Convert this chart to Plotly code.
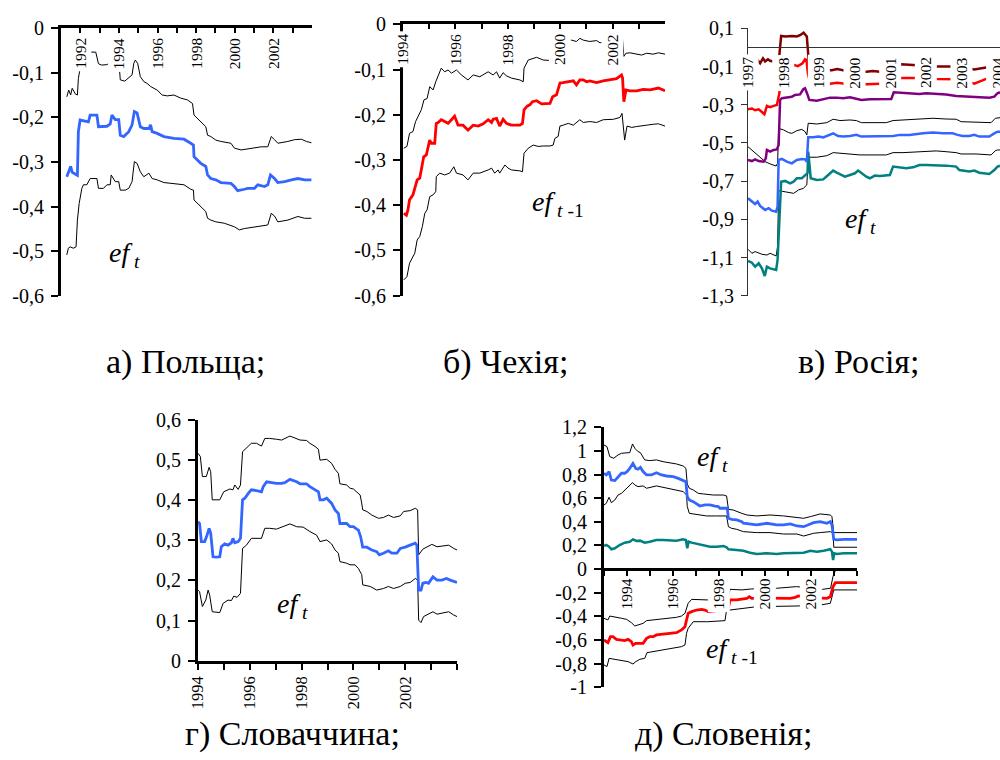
import plotly.graph_objects as go

W, H = 1000, 760
FONT = "Times New Roman"

# ---------------- Panel а) Польща ----------------
PL_LABEL_YEARS = [1992, 1994, 1996, 1998, 2000, 2002]
PL_YTICKS = [0, -0.1, -0.2, -0.3, -0.4, -0.5, -0.6]
PL_YTEXT = ["0", "-0,1", "-0,2", "-0,3", "-0,4", "-0,5", "-0,6"]
PL_EST = [(1991.30,-0.333),(1991.50,-0.31),(1991.58,-0.323),(1991.85,-0.33),(1991.90,-0.232),(1991.99,-0.206),
          (1992.42,-0.21),(1992.51,-0.195),(1992.86,-0.195),(1992.94,-0.221),(1993.38,-0.22),(1993.55,-0.215),
          (1993.64,-0.195),(1993.81,-0.205),(1993.99,-0.205),(1994.07,-0.24),(1994.25,-0.243),(1994.51,-0.232),
          (1994.68,-0.217),(1994.80,-0.187),(1994.94,-0.19),(1995.11,-0.221),(1995.29,-0.225),(1995.55,-0.225),
          (1995.64,-0.217),(1995.72,-0.232),(1995.98,-0.236),(1996.33,-0.243),(1996.85,-0.247),(1997.37,-0.249),
          (1997.72,-0.258),(1997.86,-0.262),(1997.89,-0.288),(1998.24,-0.303),(1998.50,-0.31),(1998.59,-0.329),
          (1998.76,-0.337),(1999.02,-0.34),(1999.28,-0.346),(1999.80,-0.348),(1999.98,-0.355),(2000.15,-0.364),
          (2000.50,-0.361),(2000.67,-0.359),(2001.02,-0.359),(2001.19,-0.351),(2001.54,-0.355),(2001.71,-0.351),
          (2001.85,-0.329),(2002.06,-0.337),(2002.23,-0.346),(2002.58,-0.344),(2002.93,-0.34),(2003.27,-0.337),
          (2003.62,-0.34),(2003.97,-0.34)]
PL_UP = [(1991.30,-0.154),(1991.40,-0.139),(1991.50,-0.15),(1991.58,-0.135),(1991.75,-0.148),(1991.85,-0.15),
         (1991.90,-0.113),(1991.99,-0.09),(1992.42,-0.075),(1992.51,-0.054),(1992.80,-0.054),(1992.85,-0.066),
         (1992.94,-0.08),(1993.10,-0.083),(1993.38,-0.082),(1993.55,-0.077),(1993.64,-0.06),(1993.99,-0.07),
         (1994.07,-0.116),(1994.30,-0.119),(1994.51,-0.112),(1994.68,-0.105),(1994.77,-0.079),(1994.85,-0.072),
         (1994.97,-0.079),(1995.11,-0.109),(1995.29,-0.12),(1995.46,-0.124),(1995.64,-0.131),(1995.81,-0.135),
         (1995.98,-0.139),(1996.24,-0.15),(1996.50,-0.152),(1996.85,-0.15),(1997.20,-0.157),(1997.55,-0.161),
         (1997.81,-0.169),(1997.89,-0.195),(1998.24,-0.21),(1998.50,-0.221),(1998.59,-0.24),(1998.76,-0.243),
         (1999.02,-0.251),(1999.28,-0.254),(1999.80,-0.258),(1999.98,-0.269),(2000.33,-0.273),(2000.67,-0.271),
         (2001.02,-0.269),(2001.37,-0.266),(2001.71,-0.266),(2001.89,-0.243),(2002.06,-0.25),(2002.23,-0.258),
         (2002.75,-0.254),(2003.10,-0.25),(2003.45,-0.249),(2003.71,-0.254),(2003.97,-0.257)]
PL_LO = [(1991.30,-0.508),(1991.38,-0.493),(1991.47,-0.49),(1991.64,-0.493),(1991.78,-0.49),(1991.85,-0.43),
         (1991.94,-0.393),(1992.08,-0.359),(1992.16,-0.351),(1992.34,-0.351),(1992.51,-0.337),(1992.86,-0.337),
         (1992.94,-0.359),(1993.20,-0.359),(1993.38,-0.351),(1993.55,-0.351),(1993.60,-0.329),(1993.81,-0.344),
         (1993.99,-0.344),(1994.07,-0.363),(1994.33,-0.363),(1994.51,-0.359),(1994.68,-0.344),(1994.80,-0.299),
         (1994.94,-0.303),(1995.11,-0.322),(1995.29,-0.333),(1995.55,-0.325),(1995.72,-0.337),(1995.98,-0.34),
         (1996.33,-0.346),(1996.85,-0.348),(1997.37,-0.351),(1997.72,-0.361),(1997.86,-0.363),(1997.89,-0.385),
         (1998.24,-0.4),(1998.50,-0.411),(1998.59,-0.426),(1998.76,-0.43),(1999.02,-0.434),(1999.45,-0.437),
         (1999.98,-0.445),(2000.24,-0.452),(2000.50,-0.449),(2001.02,-0.445),(2001.37,-0.443),(2001.71,-0.441),
         (2001.89,-0.415),(2002.06,-0.421),(2002.23,-0.434),(2002.75,-0.43),(2003.27,-0.422),(2003.62,-0.426),
         (2003.97,-0.426)]

# ---------------- Panel б) Чехія ----------------
CZ_LABEL_YEARS = [1994, 1996, 1998, 2000, 2002]
CZ_YTICKS = PL_YTICKS
CZ_YTEXT = PL_YTEXT
CZ_EST = [(1994.03,-0.418),(1994.13,-0.422),(1994.19,-0.41),(1994.25,-0.388),(1994.38,-0.377),(1994.48,-0.359),
          (1994.54,-0.344),(1994.64,-0.34),(1994.70,-0.322),(1994.79,-0.293),(1994.89,-0.289),(1994.96,-0.27),
          (1995.02,-0.256),(1995.08,-0.263),(1995.21,-0.263),(1995.27,-0.219),(1995.34,-0.217),(1995.46,-0.211),
          (1995.59,-0.215),(1995.72,-0.219),(1995.85,-0.211),(1995.97,-0.203),(1996.10,-0.223),(1996.29,-0.223),
          (1996.48,-0.234),(1996.68,-0.223),(1996.87,-0.225),(1997.06,-0.22),(1997.25,-0.211),(1997.38,-0.217),
          (1997.44,-0.21),(1997.57,-0.208),(1997.69,-0.225),(1997.82,-0.21),(1997.95,-0.219),(1998.14,-0.223),
          (1998.46,-0.223),(1998.56,-0.219),(1998.62,-0.189),(1998.74,-0.181),(1998.84,-0.178),(1998.94,-0.171),
          (1999.10,-0.169),(1999.29,-0.176),(1999.61,-0.175),(1999.71,-0.16),(1999.86,-0.156),(1999.99,-0.13),
          (2000.11,-0.129),(2000.31,-0.127),(2000.50,-0.125),(2000.62,-0.134),(2000.75,-0.123),(2000.88,-0.123),
          (2001.01,-0.127),(2001.13,-0.125),(2001.39,-0.129),(2001.64,-0.125),(2001.90,-0.123),(2002.15,-0.12),
          (2002.34,-0.112),(2002.38,-0.119),(2002.43,-0.171),(2002.51,-0.145),(2002.66,-0.147),(2002.92,-0.147),
          (2003.17,-0.144),(2003.43,-0.145),(2003.75,-0.141),(2004.0,-0.147)]
CZ_UP = [(1994.03,-0.274),(1994.15,-0.27),(1994.25,-0.241),(1994.38,-0.237),(1994.48,-0.215),(1994.57,-0.204),
         (1994.70,-0.189),(1994.80,-0.167),(1994.92,-0.164),(1995.02,-0.138),(1995.15,-0.145),(1995.25,-0.127),
         (1995.34,-0.112),(1995.46,-0.097),(1995.59,-0.105),(1995.72,-0.101),(1995.85,-0.108),(1996.04,-0.101),
         (1996.23,-0.112),(1996.48,-0.123),(1996.68,-0.112),(1996.93,-0.116),(1997.25,-0.105),(1997.44,-0.112),
         (1997.57,-0.105),(1997.69,-0.119),(1997.82,-0.107),(1997.95,-0.114),(1998.14,-0.119),(1998.46,-0.123),
         (1998.59,-0.127),(1998.62,-0.097),(1998.78,-0.079),(1998.97,-0.075),(1999.10,-0.073),(1999.35,-0.079),
         (1999.61,-0.08),(1999.71,-0.068),(1999.92,-0.064),(1999.99,-0.038),(2000.43,-0.035),(2000.62,-0.038),
         (2000.75,-0.031),(2000.88,-0.035),(2001.13,-0.038),(2001.39,-0.036),(2001.52,-0.041),(2001.90,-0.036),
         (2002.15,-0.033),(2002.34,-0.026),(2002.38,-0.033),(2002.43,-0.071),(2002.51,-0.064),(2002.66,-0.063),
         (2002.92,-0.066),(2003.11,-0.068),(2003.30,-0.064),(2003.55,-0.066),(2003.75,-0.063),(2004.0,-0.066)]
CZ_LO = [(1994.03,-0.565),(1994.15,-0.558),(1994.25,-0.528),(1994.45,-0.506),(1994.54,-0.477),(1994.64,-0.469),
         (1994.74,-0.447),(1994.83,-0.418),(1994.92,-0.41),(1995.02,-0.381),(1995.15,-0.377),(1995.25,-0.37),
         (1995.27,-0.337),(1995.40,-0.329),(1995.59,-0.333),(1995.78,-0.329),(1995.94,-0.315),(1996.04,-0.329),
         (1996.29,-0.333),(1996.48,-0.344),(1996.68,-0.329),(1996.93,-0.329),(1997.25,-0.322),(1997.38,-0.318),
         (1997.50,-0.329),(1997.63,-0.322),(1997.69,-0.329),(1997.89,-0.311),(1998.01,-0.318),(1998.14,-0.322),
         (1998.46,-0.324),(1998.56,-0.326),(1998.62,-0.285),(1998.78,-0.274),(1998.97,-0.267),(1999.16,-0.27),
         (1999.35,-0.269),(1999.61,-0.269),(1999.73,-0.267),(1999.80,-0.252),(1999.92,-0.248),(1999.99,-0.225),
         (2000.11,-0.223),(2000.31,-0.219),(2000.50,-0.223),(2000.62,-0.217),(2000.75,-0.211),(2000.88,-0.217),
         (2001.13,-0.215),(2001.39,-0.217),(2001.64,-0.211),(2002.03,-0.21),(2002.28,-0.206),(2002.36,-0.197),
         (2002.42,-0.226),(2002.46,-0.256),(2002.55,-0.225),(2002.73,-0.228),(2002.92,-0.226),(2003.11,-0.225),
         (2003.30,-0.223),(2003.55,-0.221),(2003.75,-0.22),(2004.0,-0.225)]

# ---------------- Panel в) Росія ----------------
RU_LABEL_YEARS = [1997, 1998, 1999, 2000, 2001, 2002, 2003, 2004]
RU_YTICKS = [0.1, -0.1, -0.3, -0.5, -0.7, -0.9, -1.1, -1.3]
RU_YTEXT = ["0,1", "-0,1", "-0,3", "-0,5", "-0,7", "-0,9", "-1,1", "-1,3"]
RU_DARKRED = [(1997.0,-0.07),(1997.15,-0.075),(1997.27,-0.066),(1997.34,-0.083),(1997.42,-0.057),(1997.48,-0.074),
              (1997.56,-0.062),(1997.62,-0.07),(1997.86,-0.08),(1997.93,0.06),(1998.05,0.057),(1998.24,0.06),
              (1998.37,0.057),(1998.46,0.064),(1998.56,0.077),(1998.60,0.07),(1998.65,0.057),(1998.70,-0.06),
              (1998.76,-0.12),(1999.35,-0.12),(1999.50,-0.113),(1999.67,-0.12),(2000.0,-0.125),(2000.32,-0.128),
              (2000.50,-0.124),(2000.70,-0.128),(2001.05,-0.125),(2001.10,-0.09),(2001.30,-0.088),(2001.72,-0.093),
              (2002.0,-0.095),(2002.28,-0.1),(2002.93,-0.1),(2003.20,-0.112),(2003.35,-0.115),(2003.68,-0.105),
              (2004.07,-0.1)]
RU_RED = [(1997.0,-0.324),(1997.11,-0.32),(1997.20,-0.329),(1997.30,-0.324),(1997.39,-0.338),(1997.46,-0.35),
          (1997.53,-0.306),(1997.62,-0.313),(1997.72,-0.306),(1997.81,-0.301),(1997.88,-0.24),(1997.91,-0.15),
          (1997.96,-0.12),(1998.20,-0.1),(1998.30,-0.092),(1998.40,-0.098),(1998.53,-0.083),(1998.60,-0.062),
          (1998.64,-0.065),(1998.68,-0.136),(1998.75,-0.19),(1999.30,-0.19),(1999.50,-0.185),(1999.72,-0.19),
          (2000.32,-0.193),(2000.70,-0.19),(2001.05,-0.19),(2001.10,-0.16),(2001.72,-0.16),(2002.28,-0.165),
          (2002.93,-0.167),(2003.20,-0.18),(2003.35,-0.19),(2003.68,-0.165),(2004.07,-0.16)]
RU_PURPLE = [(1997.0,-0.589),(1997.11,-0.595),(1997.20,-0.586),(1997.30,-0.595),(1997.44,-0.598),(1997.50,-0.581),
             (1997.53,-0.537),(1997.62,-0.546),(1997.72,-0.537),(1997.81,-0.534),(1997.86,-0.511),(1997.90,-0.275),
             (1997.95,-0.266),(1998.09,-0.261),(1998.23,-0.258),(1998.32,-0.249),(1998.46,-0.246),(1998.55,-0.219),
             (1998.60,-0.214),(1998.65,-0.237),(1998.72,-0.275),(1998.93,-0.279),(1999.11,-0.272),(1999.30,-0.263),
             (1999.49,-0.263),(1999.67,-0.266),(1999.86,-0.261),(2000.04,-0.27),(2000.18,-0.275),(2000.42,-0.272),
             (2000.79,-0.272),(2001.02,-0.27),(2001.09,-0.235),(2001.26,-0.237),(2001.53,-0.24),(2001.81,-0.244),
             (2002.0,-0.24),(2002.28,-0.244),(2002.56,-0.246),(2002.84,-0.254),(2003.21,-0.258),(2003.49,-0.261),
             (2003.77,-0.263),(2003.91,-0.258),(2004.0,-0.24),(2004.07,-0.235)]
RU_BLUE = [(1997.0,-0.79),(1997.11,-0.807),(1997.20,-0.82),(1997.27,-0.807),(1997.34,-0.83),(1997.48,-0.851),
           (1997.58,-0.842),(1997.67,-0.855),(1997.79,-0.86),(1997.83,-0.834),(1997.86,-0.589),(1997.95,-0.584),
           (1998.09,-0.598),(1998.23,-0.607),(1998.37,-0.589),(1998.51,-0.584),(1998.60,-0.586),(1998.65,-0.598),
           (1998.69,-0.471),(1998.83,-0.471),(1998.97,-0.467),(1999.11,-0.471),(1999.30,-0.458),(1999.39,-0.45),
           (1999.53,-0.464),(1999.67,-0.467),(1999.86,-0.464),(2000.04,-0.458),(2000.18,-0.467),(2000.42,-0.467),
           (2000.88,-0.467),(2001.07,-0.464),(2001.26,-0.458),(2001.53,-0.458),(2001.91,-0.45),(2002.19,-0.446),
           (2002.47,-0.45),(2002.74,-0.45),(2002.88,-0.458),(2003.02,-0.464),(2003.21,-0.464),(2003.35,-0.458),
           (2003.49,-0.467),(2003.77,-0.467),(2003.91,-0.45),(2004.0,-0.441),(2004.07,-0.441)]
RU_TEAL = [(1997.0,-1.118),(1997.11,-1.127),(1997.20,-1.148),(1997.30,-1.13),(1997.39,-1.157),(1997.47,-1.197),
           (1997.53,-1.148),(1997.62,-1.157),(1997.72,-1.162),(1997.79,-1.165),(1997.83,-1.113),(1997.88,-0.903),
           (1997.93,-0.703),(1998.04,-0.699),(1998.18,-0.712),(1998.28,-0.703),(1998.37,-0.685),(1998.51,-0.685),
           (1998.60,-0.668),(1998.67,-0.659),(1998.69,-0.546),(1998.76,-0.685),(1998.93,-0.694),(1999.11,-0.691),
           (1999.25,-0.668),(1999.39,-0.645),(1999.49,-0.656),(1999.58,-0.663),(1999.72,-0.677),(1999.86,-0.668),
           (2000.0,-0.659),(2000.09,-0.645),(2000.18,-0.659),(2000.32,-0.677),(2000.42,-0.685),(2000.56,-0.671),
           (2000.70,-0.673),(2000.84,-0.671),(2000.98,-0.668),(2001.07,-0.624),(2001.26,-0.628),(2001.44,-0.633),
           (2001.63,-0.628),(2001.81,-0.616),(2002.0,-0.616),(2002.28,-0.617),(2002.56,-0.619),(2002.84,-0.624),
           (2002.93,-0.642),(2003.21,-0.65),(2003.35,-0.645),(2003.49,-0.656),(2003.63,-0.659),(2003.77,-0.663),
           (2003.91,-0.642),(2004.0,-0.624),(2004.07,-0.62)]
RU_UP = [(1997.0,-0.52),(1997.11,-0.537),(1997.25,-0.563),(1997.34,-0.572),(1997.48,-0.598),(1997.62,-0.61),
         (1997.79,-0.621),(1997.83,-0.607),(1997.86,-0.424),(1998.0,-0.432),(1998.14,-0.446),(1998.23,-0.45),
         (1998.37,-0.436),(1998.51,-0.429),(1998.60,-0.441),(1998.65,-0.458),(1998.69,-0.397),(1998.93,-0.401),
         (1999.21,-0.394),(1999.39,-0.376),(1999.58,-0.383),(1999.86,-0.38),(2000.04,-0.383),(2000.18,-0.394),
         (2000.88,-0.394),(2001.07,-0.383),(2001.35,-0.38),(2001.81,-0.375),(2002.19,-0.371),(2002.56,-0.375),
         (2002.84,-0.376),(2002.98,-0.389),(2003.49,-0.392),(2003.82,-0.394),(2003.94,-0.371),(2004.0,-0.368),
         (2004.07,-0.368)]
RU_LO = [(1997.0,-1.057),(1997.11,-1.078),(1997.20,-1.069),(1997.30,-1.075),(1997.39,-1.083),(1997.53,-1.087),
         (1997.62,-1.078),(1997.79,-1.092),(1997.83,-1.043),(1997.86,-0.75),(1998.04,-0.755),(1998.18,-0.759),
         (1998.28,-0.764),(1998.42,-0.746),(1998.55,-0.738),(1998.65,-0.72),(1998.69,-0.575),(1998.93,-0.575),
         (1999.21,-0.567),(1999.39,-0.551),(1999.58,-0.554),(1999.86,-0.558),(2000.14,-0.563),(2000.88,-0.563),
         (2001.07,-0.551),(2001.35,-0.551),(2001.81,-0.546),(2002.28,-0.542),(2002.56,-0.546),(2002.84,-0.551),
         (2002.98,-0.558),(2003.40,-0.558),(2003.82,-0.563),(2003.94,-0.541),(2004.0,-0.537),(2004.07,-0.537)]

# ---------------- Panel г) Словаччина ----------------
SK_ALL_YEARS = list(range(1994, 2005))
SK_LABEL_YEARS = [1994, 1996, 1998, 2000, 2002]
SK_YTICKS = [0, 0.1, 0.2, 0.3, 0.4, 0.5, 0.6]
SK_YTEXT = ["0", "0,1", "0,2", "0,3", "0,4", "0,5", "0,6"]
SK_EST = [(1994.0,0.347),(1994.06,0.342),(1994.13,0.297),(1994.26,0.297),(1994.35,0.313),(1994.43,0.33),
          (1994.49,0.318),(1994.58,0.259),(1994.71,0.258),(1994.84,0.259),(1994.90,0.284),(1995.03,0.291),
          (1995.16,0.288),(1995.29,0.294),(1995.35,0.305),(1995.42,0.294),(1995.55,0.297),(1995.64,0.305),
          (1995.72,0.401),(1995.81,0.405),(1995.94,0.417),(1996.06,0.426),(1996.26,0.424),(1996.45,0.421),
          (1996.52,0.434),(1996.65,0.446),(1996.84,0.444),(1997.03,0.442),(1997.23,0.442),(1997.35,0.444),
          (1997.55,0.452),(1997.81,0.446),(1997.94,0.441),(1998.19,0.441),(1998.32,0.434),(1998.52,0.427),
          (1998.65,0.421),(1998.71,0.401),(1998.84,0.401),(1998.97,0.405),(1999.16,0.392),(1999.29,0.376),
          (1999.42,0.367),(1999.48,0.342),(1999.74,0.342),(1999.87,0.334),(2000.0,0.334),(2000.13,0.328),
          (2000.19,0.326),(2000.28,0.309),(2000.36,0.283),(2000.52,0.283),(2000.71,0.276),(2000.90,0.272),
          (2001.0,0.264),(2001.16,0.268),(2001.35,0.274),(2001.48,0.268),(2001.68,0.268),(2001.81,0.28),
          (2002.0,0.283),(2002.19,0.288),(2002.39,0.293),(2002.45,0.288),(2002.52,0.176),(2002.61,0.176),
          (2002.68,0.193),(2002.81,0.195),(2002.90,0.193),(2003.07,0.209),(2003.23,0.201),(2003.42,0.201),
          (2003.59,0.205),(2003.74,0.201),(2003.87,0.197),(2004.0,0.195)]
SK_UP = [(1994.0,0.517),(1994.09,0.509),(1994.17,0.459),(1994.32,0.459),(1994.43,0.482),(1994.49,0.471),
         (1994.55,0.401),(1994.84,0.401),(1994.99,0.421),(1995.23,0.428),(1995.35,0.426),(1995.42,0.438),
         (1995.55,0.427),(1995.64,0.438),(1995.72,0.521),(1995.87,0.53),(1996.06,0.542),(1996.26,0.542),
         (1996.45,0.535),(1996.58,0.554),(1996.77,0.554),(1997.03,0.552),(1997.23,0.55),(1997.55,0.56),
         (1997.81,0.554),(1997.94,0.55),(1998.19,0.549),(1998.32,0.542),(1998.52,0.534),(1998.65,0.527),
         (1998.71,0.5),(1998.97,0.502),(1999.16,0.492),(1999.29,0.477),(1999.42,0.467),(1999.48,0.441),
         (1999.74,0.438),(1999.87,0.43),(2000.0,0.428),(2000.13,0.421),(2000.26,0.413),(2000.32,0.393),
         (2000.36,0.376),(2000.52,0.372),(2000.71,0.363),(2000.97,0.355),(2001.16,0.357),(2001.35,0.363),
         (2001.55,0.357),(2001.81,0.361),(2001.94,0.372),(2002.19,0.374),(2002.39,0.38),(2002.48,0.376),
         (2002.52,0.264),(2002.68,0.278),(2002.84,0.284),(2003.03,0.29),(2003.23,0.284),(2003.48,0.286),
         (2003.68,0.288),(2003.87,0.28),(2004.0,0.276)]
SK_LO = [(1994.0,0.176),(1994.06,0.172),(1994.17,0.135),(1994.30,0.151),(1994.39,0.176),(1994.45,0.164),
         (1994.55,0.122),(1994.84,0.12),(1994.97,0.143),(1995.16,0.151),(1995.29,0.15),(1995.38,0.161),
         (1995.51,0.158),(1995.64,0.168),(1995.72,0.28),(1995.87,0.288),(1996.06,0.305),(1996.26,0.305),
         (1996.45,0.305),(1996.58,0.33),(1996.77,0.33),(1997.03,0.328),(1997.23,0.333),(1997.55,0.341),
         (1997.81,0.334),(1998.06,0.333),(1998.32,0.322),(1998.58,0.313),(1998.71,0.297),(1998.97,0.301),
         (1999.16,0.291),(1999.29,0.276),(1999.42,0.268),(1999.48,0.247),(1999.74,0.243),(1999.87,0.239),
         (2000.06,0.239),(2000.19,0.23),(2000.32,0.215),(2000.36,0.189),(2000.65,0.185),(2000.90,0.176),
         (2001.16,0.18),(2001.35,0.185),(2001.55,0.18),(2001.81,0.185),(2002.0,0.193),(2002.19,0.195),
         (2002.39,0.205),(2002.48,0.201),(2002.52,0.101),(2002.61,0.095),(2002.71,0.11),(2002.90,0.116),
         (2003.07,0.122),(2003.23,0.116),(2003.48,0.12),(2003.68,0.122),(2003.87,0.114),(2004.0,0.11)]

# ---------------- Panel д) Словенія ----------------
SI_LABEL_YEARS = [1994, 1996, 1998, 2000, 2002]
SI_YTICKS = [1.2, 1.0, 0.8, 0.6, 0.4, 0.2, 0, -0.2, -0.4, -0.6, -0.8, -1.0]
SI_YTEXT = ["1,2", "1", "0,8", "0,6", "0,4", "0,2", "0", "-0,2", "-0,4", "-0,6", "-0,8", "-1"]
SI_BLUE = [(1993.0,0.811),(1993.10,0.797),(1993.22,0.825),(1993.32,0.754),(1993.47,0.749),(1993.61,0.783),
           (1993.76,0.811),(1993.90,0.811),(1994.0,0.825),(1994.12,0.853),(1994.26,0.895),(1994.38,0.853),
           (1994.48,0.845),(1994.58,0.861),(1994.70,0.825),(1994.85,0.797),(1995.06,0.797),(1995.28,0.816),
           (1995.50,0.797),(1995.72,0.788),(1996.01,0.783),(1996.23,0.768),(1996.44,0.749),(1996.56,0.74),
           (1996.62,0.613),(1996.71,0.585),(1996.88,0.571),(1997.03,0.551),(1997.17,0.534),(1997.39,0.543),
           (1997.61,0.543),(1997.83,0.534),(1997.97,0.529),(1998.04,0.515),(1998.36,0.515),(1998.41,0.43),
           (1998.55,0.421),(1998.77,0.416),(1998.99,0.402),(1999.06,0.388),(1999.35,0.382),(1999.64,0.374),
           (2000.08,0.388),(2000.51,0.374),(2000.81,0.374),(2001.10,0.382),(2001.39,0.365),(2001.68,0.359),
           (2001.97,0.382),(2002.11,0.393),(2002.40,0.402),(2002.69,0.388),(2002.84,0.402),(2002.91,0.374),
           (2002.99,0.252),(2003.13,0.247),(2003.42,0.252),(2003.71,0.252),(2004.0,0.252)]
SI_BLUE_UP = [(1993.0,1.05),(1993.13,1.036),(1993.25,0.952),(1993.42,0.938),(1993.61,0.966),(1993.76,0.98),
              (1994.12,0.986),(1994.24,1.059),(1994.34,1.022),(1994.48,0.994),(1994.58,0.986),(1994.77,0.924),
              (1994.99,0.918),(1995.28,0.924),(1995.57,0.909),(1995.86,0.901),(1996.15,0.89),(1996.44,0.873),
              (1996.56,0.853),(1996.62,0.72),(1996.71,0.684),(1996.88,0.67),(1997.10,0.641),(1997.32,0.636),
              (1997.75,0.627),(1998.19,0.627),(1998.33,0.619),(1998.41,0.506),(1998.62,0.5),(1998.99,0.472),
              (1999.21,0.458),(1999.64,0.45),(2000.22,0.458),(2000.81,0.45),(2001.39,0.438),(2001.68,0.43),
              (2001.97,0.444),(2002.19,0.458),(2002.40,0.467),(2002.84,0.458),(2002.91,0.444),(2002.99,0.309),
              (2004.0,0.309)]
SI_BLUE_LO = [(1993.0,0.543),(1993.10,0.557),(1993.22,0.608),(1993.32,0.562),(1993.47,0.585),(1993.61,0.627),
              (1993.76,0.641),(1994.0,0.684),(1994.24,0.732),(1994.34,0.712),(1994.48,0.698),(1994.70,0.704),
              (1994.85,0.684),(1995.28,0.704),(1995.57,0.692),(1996.01,0.675),(1996.44,0.656),(1996.59,0.627),
              (1996.62,0.53),(1996.71,0.472),(1996.88,0.467),(1997.10,0.458),(1997.46,0.45),(1997.90,0.45),
              (1998.33,0.45),(1998.41,0.359),(1998.55,0.345),(1998.77,0.337),(1999.06,0.317),(1999.64,0.309),
              (2000.22,0.309),(2000.81,0.297),(2001.39,0.297),(2001.68,0.28),(2002.11,0.303),(2002.40,0.309),
              (2002.84,0.317),(2002.96,0.303),(2002.99,0.185),(2004.0,0.185)]
SI_TEAL = [(1993.0,0.196),(1993.10,0.204),(1993.22,0.19),(1993.32,0.168),(1993.47,0.176),(1993.68,0.204),
           (1993.90,0.224),(1994.12,0.232),(1994.26,0.252),(1994.41,0.238),(1994.56,0.241),(1994.77,0.224),
           (1994.99,0.232),(1995.28,0.247),(1995.57,0.247),(1995.86,0.247),(1996.15,0.241),(1996.44,0.252),
           (1996.56,0.247),(1996.62,0.176),(1996.68,0.232),(1996.81,0.224),(1997.03,0.213),(1997.32,0.204),
           (1997.61,0.19),(1997.90,0.19),(1998.19,0.196),(1998.33,0.184),(1998.41,0.168),(1998.77,0.162),
           (1999.06,0.156),(1999.35,0.139),(1999.64,0.128),(2000.08,0.134),(2000.51,0.128),(2000.81,0.134),
           (2001.39,0.139),(2001.68,0.139),(2001.97,0.156),(2002.26,0.148),(2002.55,0.156),(2002.84,0.168),
           (2002.91,0.148),(2002.96,0.077),(2003.01,0.134),(2003.13,0.128),(2003.42,0.134),(2004.0,0.134)]
SI_RED = [(1993.0,-0.6),(1993.10,-0.614),(1993.17,-0.622),(1993.28,-0.572),(1993.39,-0.572),(1993.54,-0.594),
          (1993.76,-0.6),(1993.90,-0.605),(1994.05,-0.594),(1994.19,-0.614),(1994.26,-0.642),(1994.38,-0.628),
          (1994.70,-0.628),(1994.85,-0.586),(1994.99,-0.572),(1995.14,-0.572),(1995.28,-0.557),(1995.57,-0.549),
          (1995.86,-0.543),(1996.15,-0.538),(1996.37,-0.515),(1996.52,-0.487),(1996.59,-0.43),(1996.66,-0.374),
          (1996.81,-0.36),(1997.03,-0.346),(1997.24,-0.34),(1997.39,-0.346),(1997.53,-0.36),(1998.0,-0.35),
          (1998.38,-0.35),(1998.48,-0.261),(1998.77,-0.261),(1998.99,-0.256),(1999.21,-0.247),(1999.32,-0.233),
          (1999.42,-0.247),(2000.0,-0.245),(2000.51,-0.247),(2001.10,-0.247),(2001.31,-0.239),(2001.46,-0.227),
          (2002.0,-0.24),(2002.43,-0.247),(2002.69,-0.247),(2002.84,-0.233),(2002.96,-0.148),(2003.06,-0.115),
          (2003.28,-0.115),(2004.0,-0.115)]
SI_RED_UP = [(1993.0,-0.416),(1993.17,-0.43),(1993.25,-0.397),(1993.47,-0.408),(1993.76,-0.416),(1993.98,-0.425),
             (1994.19,-0.453),(1994.34,-0.481),(1994.48,-0.472),(1994.70,-0.459),(1994.85,-0.436),(1995.14,-0.43),
             (1995.43,-0.425),(1995.72,-0.416),(1996.15,-0.408),(1996.37,-0.397),(1996.52,-0.374),(1996.66,-0.289),
             (1996.81,-0.256),(1997.53,-0.261),(1998.38,-0.26),(1998.48,-0.171),(1999.0,-0.176),(1999.40,-0.168),
             (2000.51,-0.162),(2001.37,-0.148),(2002.50,-0.171),(2002.85,-0.162),(2002.96,-0.06),(2003.06,-0.012),
             (2004.0,-0.012)]
SI_RED_LO = [(1993.0,-0.811),(1993.13,-0.825),(1993.22,-0.755),(1993.47,-0.763),(1993.76,-0.775),(1994.05,-0.783),
             (1994.26,-0.803),(1994.38,-0.783),(1994.56,-0.763),(1994.77,-0.755),(1994.87,-0.707),(1995.14,-0.698),
             (1995.57,-0.684),(1996.01,-0.67),(1996.37,-0.656),(1996.52,-0.642),(1996.59,-0.543),(1996.66,-0.501),
             (1996.88,-0.445),(1997.50,-0.445),(1998.26,-0.436),(1998.33,-0.346),(1998.48,-0.346),(1999.64,-0.318),
             (2000.51,-0.318),(2001.39,-0.312),(2002.43,-0.303),(2002.84,-0.289),(2002.99,-0.176),(2004.0,-0.176)]

CAPTIONS = ["а) Польща;", "б) Чехія;", "в) Росія;", "г) Словаччина;", "д) Словенія;"]

# ---------------- colours ----------------
BLUE, RED, DARKRED, PURPLE, TEAL, BLACK = "#3366ff", "#ff0000", "#800000", "#800080", "#008080", "#000000"


def dom_x(left, right):
    return [left / W, right / W]


def dom_y(top, bottom):
    return [1 - bottom / H, 1 - top / H]


fig = go.Figure()


def add_line(pts, ax, color, width):
    fig.add_trace(go.Scatter(
        x=[p[0] for p in pts], y=[p[1] for p in pts], mode="lines",
        line=dict(color=color, width=width), xaxis=ax[0], yaxis=ax[1],
        showlegend=False, hoverinfo="skip"))


# panel а
add_line(PL_UP, ("x", "y"), BLACK, 1)
add_line(PL_LO, ("x", "y"), BLACK, 1)
add_line(PL_EST, ("x", "y"), BLUE, 2.8)
# panel б
add_line(CZ_UP, ("x2", "y2"), BLACK, 1)
add_line(CZ_LO, ("x2", "y2"), BLACK, 1)
add_line(CZ_EST, ("x2", "y2"), RED, 2.8)
# panel в
add_line(RU_UP, ("x3", "y3"), BLACK, 1)
add_line(RU_LO, ("x3", "y3"), BLACK, 1)
add_line(RU_TEAL, ("x3", "y3"), TEAL, 2.5)
add_line(RU_BLUE, ("x3", "y3"), BLUE, 2.5)
add_line(RU_PURPLE, ("x3", "y3"), PURPLE, 2.5)
add_line(RU_RED, ("x3", "y3"), RED, 2.5)
add_line(RU_DARKRED, ("x3", "y3"), DARKRED, 2.5)
# panel г
add_line(SK_UP, ("x4", "y4"), BLACK, 1)
add_line(SK_LO, ("x4", "y4"), BLACK, 1)
add_line(SK_EST, ("x4", "y4"), BLUE, 2.8)
# panel д
add_line(SI_BLUE_UP, ("x5", "y5"), BLACK, 1)
add_line(SI_BLUE_LO, ("x5", "y5"), BLACK, 1)
add_line(SI_RED_UP, ("x5", "y5"), BLACK, 1)
add_line(SI_RED_LO, ("x5", "y5"), BLACK, 1)
add_line(SI_TEAL, ("x5", "y5"), TEAL, 2.5)
add_line(SI_BLUE, ("x5", "y5"), BLUE, 2.8)
add_line(SI_RED, ("x5", "y5"), RED, 2.8)

tickfont = dict(family=FONT, size=20, color="black")
common = dict(showgrid=False, zeroline=False, fixedrange=True, automargin=False,
              linecolor="black", tickcolor="black", layer="above traces")


def yaxis(domain, rng, anchor, vals, text, lw=3, tw=2, tl=7, col="black"):
    d = dict(domain=domain, range=rng, anchor=anchor, showline=True, linewidth=lw,
             ticks="outside", ticklen=tl, tickwidth=tw, tickvals=vals, ticktext=text,
             tickfont=tickfont, ticklabelstandoff=3, **common)
    d["linecolor"] = col
    d["tickcolor"] = col
    return d


def zero_pos(ydom, rng):
    return ydom[0] + (0 - rng[0]) / (rng[1] - rng[0]) * (ydom[1] - ydom[0])


yd1 = dom_y(28, 296)
yd2 = dom_y(24.3, 295.7)
yd3 = dom_y(28.3, 295.7)
yd4 = dom_y(420, 660.7)
yd5 = dom_y(427.3, 687.3)

x3 = dict(domain=dom_x(748, 1000), range=[1997, 2004.07], anchor="free",
          position=zero_pos(yd3, [-1.3, 0.1]), showline=True, linewidth=1,
          ticks="", showticklabels=False, **common)
x3["linecolor"] = "#333333"

fig.update_layout(
    width=W, height=H, margin=dict(l=0, r=0, t=0, b=0, pad=0, autoexpand=False),
    template="none",
    paper_bgcolor="white", plot_bgcolor="rgba(0,0,0,0)", showlegend=False,
    font=dict(family=FONT, color="black"),
    xaxis=dict(domain=dom_x(61, 312), range=[1991, 2004], anchor="y", side="top", showline=True,
               linewidth=3, ticks="inside", ticklen=5, tickwidth=2,
               tickvals=list(range(1991, 2005)), showticklabels=False, **common),
    yaxis=yaxis(yd1, [-0.6, 0], "x", PL_YTICKS, PL_YTEXT),
    xaxis2=dict(domain=dom_x(403, 665), range=[1994, 2004], anchor="y2", side="top", showline=True,
                linewidth=3, ticks="inside", ticklen=5, tickwidth=2,
                tickvals=list(range(1994, 2005)), showticklabels=False, **common),
    yaxis2=yaxis(yd2, [-0.6, 0], "x2", CZ_YTICKS, CZ_YTEXT),
    xaxis3=x3,
    yaxis3=yaxis(yd3, [-1.3, 0.1], "x3", RU_YTICKS, RU_YTEXT, lw=1, tw=1, tl=6, col="#333333"),
    xaxis4=dict(domain=dom_x(198, 457), range=[1994, 2004], anchor="y4", showline=True,
                linewidth=3, ticks="outside", ticklen=6, tickwidth=2,
                tickvals=SK_LABEL_YEARS, ticktext=[str(v) for v in SK_LABEL_YEARS], tickangle=-90,
                tickfont=dict(family=FONT, size=16.5, color="black"),
                minor=dict(tickvals=SK_ALL_YEARS, ticks="outside", ticklen=6, tickwidth=2,
                           tickcolor="black", showgrid=False),
                **common),
    yaxis4=yaxis(yd4, [0, 0.6], "x4", SK_YTICKS, SK_YTEXT),
    xaxis5=dict(domain=dom_x(604, 857), range=[1993, 2004], anchor="free",
                position=zero_pos(yd5, [-1, 1.2]), showline=True, linewidth=3,
                ticks="outside", ticklen=5, tickwidth=2,
                tickvals=list(range(1993, 2005)), showticklabels=False, **common),
    yaxis5=yaxis(yd5, [-1, 1.2], "x5", SI_YTICKS, SI_YTEXT),
)

# rotated year labels with white boxes (they mask the lines, as in the original)
yearfont = dict(family=FONT, size=15.5, color="black")


def year_labels(years, xref, yref):
    for yr in years:
        fig.add_annotation(x=yr, y=0, xref=xref, yref=yref, text=str(yr), textangle=-90,
                           xanchor="center", yanchor="top", yshift=-7, showarrow=False,
                           bgcolor="white", borderpad=2, font=yearfont)


year_labels(PL_LABEL_YEARS, "x", "y")
year_labels(CZ_LABEL_YEARS, "x2", "y2")
year_labels(RU_LABEL_YEARS, "x3", "y3")
year_labels(SI_LABEL_YEARS, "x5", "y5")

# "ef" labels
EF_T = "<i>ef</i><sub><i> t</i></sub>"
EF_T1 = "<i>ef</i><sub><i> t</i> -1</sub>"
efont = dict(family=FONT, size=28, color="black")
for txt, xp, yp in [(EF_T, 124, 254), (EF_T1, 558, 203), (EF_T, 860, 220), (EF_T, 292, 605),
                    (EF_T, 712, 458), (EF_T1, 732, 650)]:
    fig.add_annotation(x=xp / W, y=1 - yp / H, xref="paper", yref="paper", text=txt,
                       showarrow=False, font=efont, xanchor="center", yanchor="middle")

# captions
capfont = dict(family=FONT, size=34, color="black")
for txt, xp, yp in zip(CAPTIONS, [185, 505, 858, 292, 723], [362, 362, 362, 734, 734]):
    fig.add_annotation(x=xp / W, y=1 - yp / H, xref="paper", yref="paper", text=txt,
                       showarrow=False, font=capfont, xanchor="center", yanchor="middle")

fig.write_html("out.html", config={"displayModeBar": False},
               post_script="document.body.style.margin='0px';")
